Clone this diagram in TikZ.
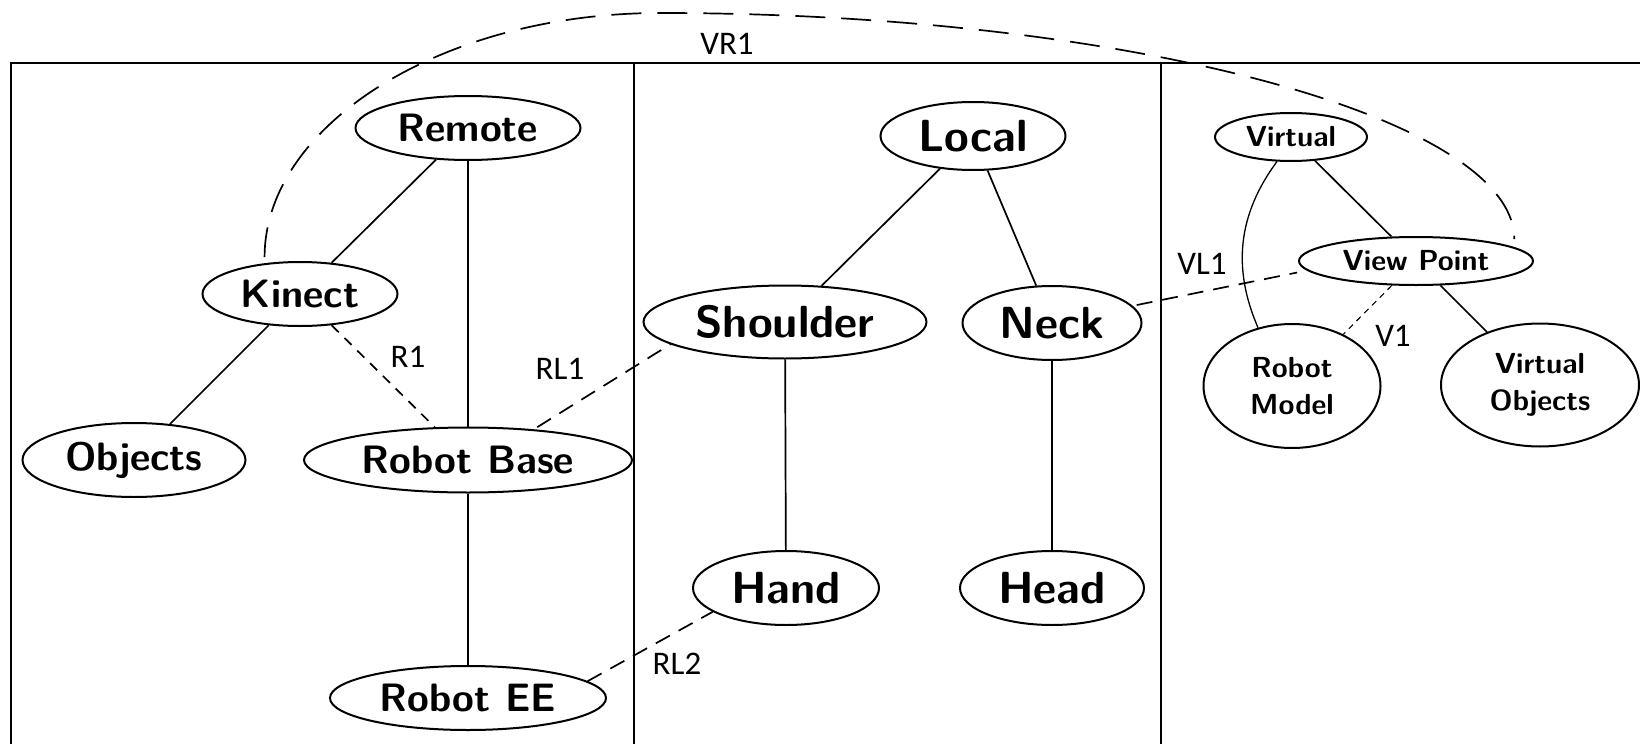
\documentclass[tikz,border=0pt]{standalone}
\usepackage{fontspec}
\newfontfamily\lblfont{Carlito}
\usetikzlibrary{shapes.geometric}

\begin{document}
\begin{tikzpicture}[x=0.5pt,y=-0.5pt,
  part/.style={draw,ellipse,line width=1pt,inner sep=0pt},
  bigpart/.style={part,font=\sffamily\bfseries\fontsize{22.5}{27}\selectfont},
  midpart/.style={part,font=\sffamily\bfseries\fontsize{19.8}{24}\selectfont},
  smallpart/.style={part,align=center,font=\sffamily\bfseries\fontsize{14.5}{18.5}\selectfont},
  link/.style={line width=0.85pt},
  thinlink/.style={line width=0.65pt},
  shortdash/.style={link,dash pattern=on 5pt off 4pt},
  longdash/.style={link,dash pattern=on 8pt off 5pt},
  arcdash/.style={link,dash pattern=on 15pt off 8pt},
  finedash/.style={line width=0.55pt,dash pattern=on 3pt off 2.5pt},
  frame/.style={line width=1.4pt},
  lbl/.style={font=\lblfont\fontsize{16.5}{20}\selectfont,inner sep=0pt}
]
  \useasboundingbox (0,0) rectangle (1640,744);

  % Panels
  \draw[frame] (11,744) -- (11,63) -- (1640,63);
  \draw[frame] (634,63) -- (634,744);
  \draw[frame] (1161,63) -- (1161,744);

  % Remote side
  \node[midpart,minimum width=112.5pt,minimum height=32pt] (remote) at (468,128) {Remote};
  \node[midpart,minimum width=97.5pt,minimum height=32pt] (kinect) at (300,294) {Kinect};
  \node[midpart,minimum width=111.5pt,minimum height=37pt] (objects) at (134,460) {Objects};
  \node[midpart,minimum width=164pt,minimum height=32.5pt] (rbase) at (468,460) {Robot Base};
  \node[midpart,minimum width=138pt,minimum height=32pt] (ree) at (468,698) {Robot EE};

  % Local side
  \node[bigpart,minimum width=92.5pt,minimum height=34pt] (local) at (973,136) {Local};
  \node[bigpart,minimum width=141.5pt,minimum height=36.5pt] (shoulder) at (785,322) {Shoulder};
  \node[bigpart,minimum width=89.5pt,minimum height=37pt] (neck) at (1052,323) {Neck};
  \node[bigpart,minimum width=93pt,minimum height=37pt] (hand) at (786,588) {Hand};
  \node[bigpart,minimum width=92pt,minimum height=37pt] (head) at (1052,588) {Head};

  % Virtual side
  \node[smallpart,minimum width=76pt,minimum height=24pt] (virtual) at (1291,137) {Virtual};
  \node[smallpart,minimum width=117pt,minimum height=24pt] (vp) at (1416,261) {View Point};
  \node[smallpart,minimum width=88.5pt,minimum height=62pt] (rmodel) at (1292,386) {Robot\\Model};
  \node[smallpart,minimum width=99pt,minimum height=61.5pt] (vobj) at (1540,385) {Virtual\\Objects};

  % Tree links
  \draw[link] (remote) -- (kinect);
  \draw[link] (remote) -- (rbase);
  \draw[link] (kinect) -- (objects);
  \draw[link] (rbase) -- (ree);
  \draw[link] (local) -- (shoulder);
  \draw[link] (local) -- (neck);
  \draw[link] (shoulder) -- (hand);
  \draw[link] (neck) -- (head);
  \draw[link] (virtual) -- (vp);
  \draw[link] (vp) -- (vobj);
  \draw[thinlink] (virtual) to[bend right=30] (rmodel);

  % Relations
  \draw[shortdash] (kinect) -- (rbase);
  \draw[longdash,shorten <=2pt] (rbase.25) -- (shoulder.191);
  \draw[longdash] (ree.8) -- (hand.198);
  \draw[longdash,shorten <=2pt,shorten >=5pt] (neck.12) -- (vp.185);
  \draw[finedash] (vp) -- (rmodel);
  \coordinate (arctop) at (660,13);
  \draw[arcdash,shorten <=3pt,shorten >=4pt] (kinect.139) .. controls +(0,-138) and +(-218,0) .. (arctop)
    .. controls +(470,0) and +(0,-129) .. (vp.8);

  % Relation names
  \node[lbl] (lvr) at (727,44) {VR1};
  \node[lbl] (lr) at (408,357) {R1};
  \node[lbl] (lrl) at (560,369) {RL1};
  \node[lbl] (lrlb) at (677,664) {RL2};
  \node[lbl] (lvl) at (1202,264) {VL1};
  \node[lbl] (lv) at (1393,336) {V1};
\end{tikzpicture}
\end{document}
